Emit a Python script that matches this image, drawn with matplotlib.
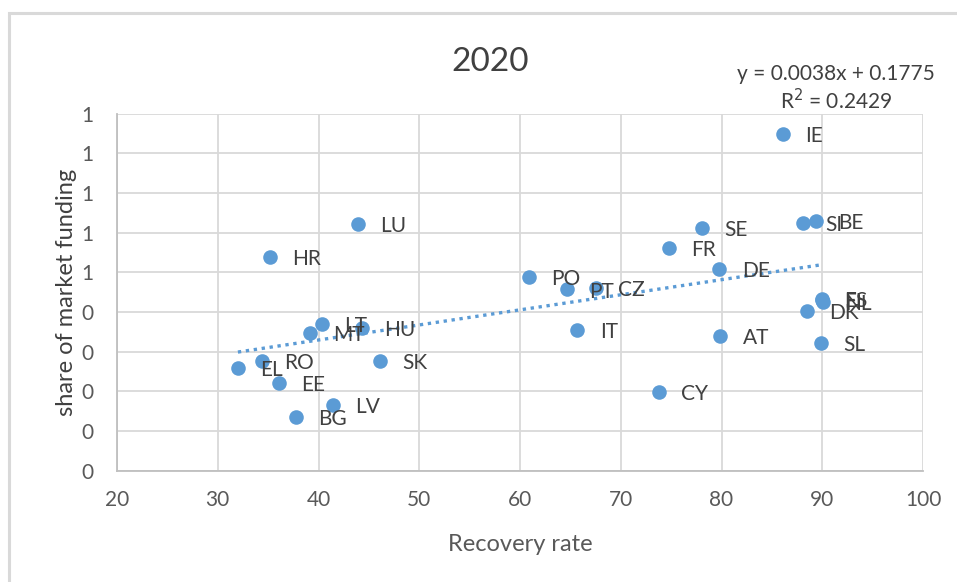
import matplotlib
matplotlib.use("Agg")
import matplotlib.pyplot as plt
from matplotlib.patches import Rectangle
import numpy as np

# Country codes, recovery rate (x) and share of market funding (y)
countries = ["IE", "LU", "HR", "SE", "FR", "SI", "BE", "DE", "PO", "PT", "CZ",
             "IT", "CY", "ES", "FI", "NL", "DK", "AT", "SL", "LT", "MT", "HU",
             "SK", "RO", "EL", "EE", "LV", "BG"]
recovery_rate = [86.1, 43.9, 35.2, 78.1, 74.8, 88.1, 89.4, 79.8, 60.9, 64.7, 67.5,
                 65.7, 73.8, 90.0, 90.0, 90.1, 88.5, 79.9, 89.9, 40.3, 39.2, 44.3,
                 46.1, 34.4, 32.0, 36.1, 41.4, 37.8]
market_share = [0.848, 0.622, 0.539, 0.613, 0.562, 0.625, 0.629, 0.508, 0.488, 0.457, 0.461,
                0.355, 0.199, 0.434, 0.431, 0.425, 0.403, 0.340, 0.323, 0.369, 0.348, 0.359,
                0.277, 0.277, 0.258, 0.222, 0.166, 0.135]

# Linear trend coefficients
slope = 0.0038
intercept = 0.1775
r_squared = 0.2429

x_ticks = [20, 30, 40, 50, 60, 70, 80, 90, 100]
y_ticks = [0.0, 0.1, 0.2, 0.3, 0.4, 0.5, 0.6, 0.7, 0.8, 0.9]
y_tick_labels = ["0", "0", "0", "0", "0", "1", "1", "1", "1", "1"]

BLUE = "#5B9BD5"
GRID = "#D9D9D9"
TEXT = "#404040"
TICK = "#595959"
FONT = "Lato"

plt.rcParams["font.family"] = [FONT, "DejaVu Sans"]

fig = plt.figure(figsize=(9.57, 5.82), dpi=100)
W, H = 957, 582

# Chart area outline
fig.patches.append(Rectangle((9 / W, -0.1), 1.2, 1 - 13 / H + 0.1,
                             transform=fig.transFigure, fill=False,
                             edgecolor="#D9D9D9", linewidth=2.2))

ax = fig.add_axes([117 / W, (H - 470.7) / H, (923 - 117) / W, (470.7 - 113.7) / H])
ax.set_xlim(20, 100)
ax.set_ylim(0, 0.9)
ax.set_xticks(x_ticks)
ax.set_yticks(y_ticks)
ax.set_yticklabels(y_tick_labels)
ax.grid(True, color=GRID, linewidth=1.3)
ax.set_axisbelow(True)
for side in ["top", "right"]:
    ax.spines[side].set_visible(False)
for side in ["left", "bottom"]:
    ax.spines[side].set_color("#BFBFBF")
    ax.spines[side].set_linewidth(1.3)
ax.tick_params(length=0, labelsize=15, labelcolor=TICK)
ax.tick_params(axis="y", pad=17)
ax.tick_params(axis="x", pad=14)

# Points
ax.scatter(recovery_rate, market_share, s=110, color=BLUE, zorder=3, linewidths=0)

# Dotted trend line across the data range
xs = np.array([min(recovery_rate), max(recovery_rate)])
ax.plot(xs, slope * xs + intercept, linestyle=(0, (1, 1.4)), color=BLUE,
        linewidth=2.4, zorder=2)

# Country labels to the right of each point
for name, x, y in zip(countries, recovery_rate, market_share):
    ax.annotate(name, (x, y), xytext=(16, -1.5), textcoords="offset points",
                va="center", ha="left", fontsize=15, color=TEXT, zorder=4)

ax.set_xlabel("Recovery rate", fontsize=17, color=TICK, labelpad=17)
ax.set_ylabel("share of market funding", fontsize=17, color=TEXT, labelpad=3)

fig.text(490 / W, 1 - 62 / H, "2020", ha="center", va="center",
         fontsize=24, color=TEXT)
fig.text(836 / W, 1 - 74 / H, f"y = {slope}x + {intercept}", ha="center",
         va="center", fontsize=15, color=TEXT)
fig.text(836 / W, 1 - 101 / H, f"R$^2$ = {r_squared}", ha="center",
         va="center", fontsize=15, color=TEXT)

fig.savefig("out.png", dpi=100)
